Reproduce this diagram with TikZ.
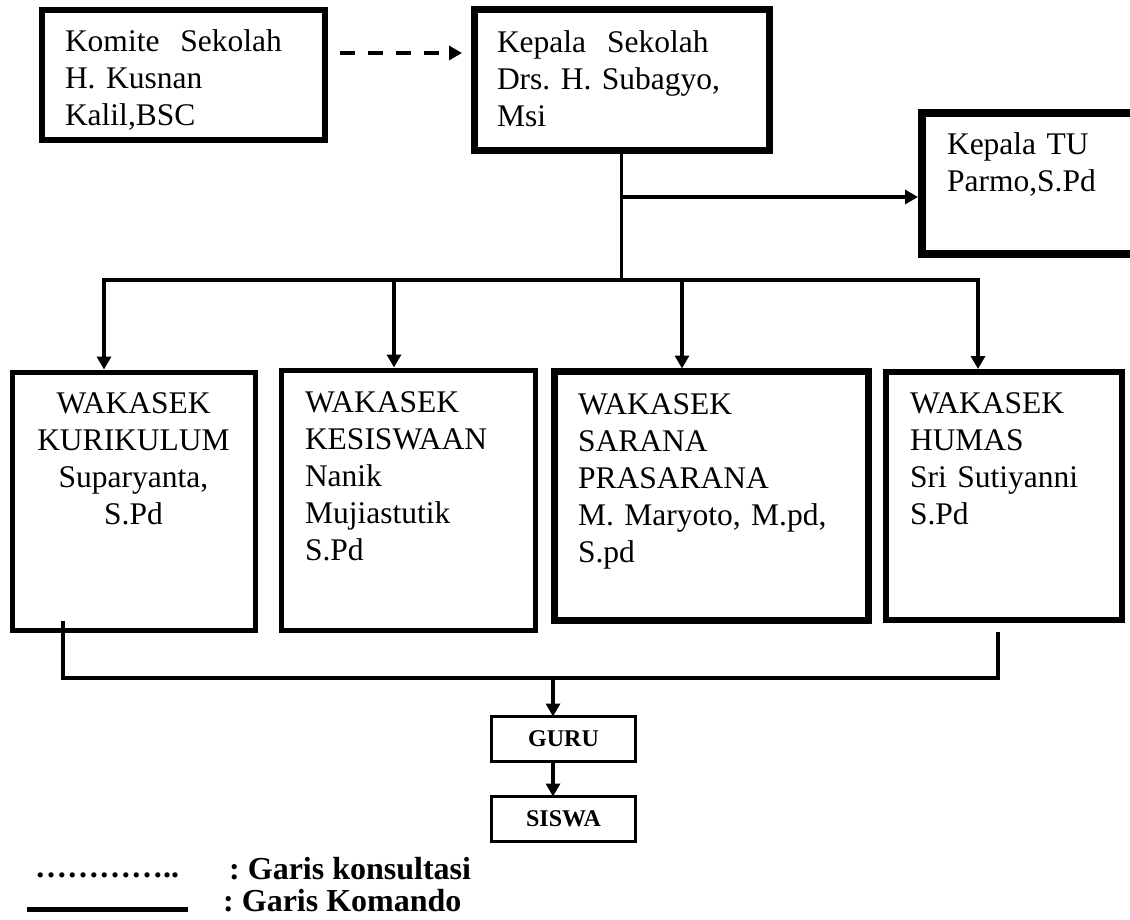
\documentclass[tikz,border=0pt]{standalone}
\usepackage{fontspec}
\setmainfont{Liberation Serif}
\usetikzlibrary{positioning}
\usetikzlibrary{arrows.meta}

\begin{document}
\frenchspacing
\begin{tikzpicture}
        [x=1pt, y=-1pt,
         orgbox/.style={draw, anchor=north west, inner ysep=0pt, outer sep=0pt, align=left,
                        font=\fontsize{31.5}{37}\selectfont},
         smallbox/.style={draw, line width=3pt, outer sep=0pt, inner sep=0pt,
                        minimum width=144pt, minimum height=45pt,
                        font=\fontsize{24}{28}\selectfont\bfseries},
         cmd/.style={line width=3.5pt},
         konsul/.style={line width=4pt, dash pattern=on 15pt off 13pt},
         tip/.style={-{Triangle[length=13pt,width=14pt]}},
         tips/.style={{Triangle[length=13pt,width=14pt]}-{Triangle[length=13pt,width=14pt]}},
         legend/.style={anchor=base west, inner sep=0pt, font=\fontsize{32}{36}\selectfont\bfseries}]
      \useasboundingbox (0,0) rectangle (1130,920);
      % pimpinan
      \node[orgbox, line width=6pt, text width=237pt, inner xsep=23pt, text height=42pt, text depth=88pt]
           (komite) at (42,10) {Komite\ \ Sekolah\\H. Kusnan\\Kalil,BSC};
      \node[orgbox, line width=7pt, text width=249pt, inner xsep=23pt, text height=43pt, text depth=98pt]
           (kasek) at (474,10) {Kepala\ \ Sekolah\\Drs. H. Subagyo,\\Msi};
      \node[orgbox, line width=8pt, text width=168pt, inner xsep=25pt, text height=42pt, text depth=99pt]
           (tu) at (922,113) {Kepala TU\\Parmo,S.Pd};
      % wakasek
      \node[orgbox, line width=5pt, text width=223pt, inner xsep=10pt, text height=41pt, text depth=217pt, align=center]
           (kur) at (12,372) {WAKASEK\\KURIKULUM\\Suparyanta,\\S.Pd};
      \node[orgbox, line width=5pt, text width=207pt, inner xsep=23.5pt, text height=41.5pt, text depth=218.5pt]
           (kes) at (281.5,370.5) {WAKASEK\\KESISWAAN\\Nanik\\Mujiastutik\\S.Pd};
      \node[orgbox, line width=7pt, text width=267pt, inner xsep=23.5pt, text height=42.5pt, text depth=206.5pt]
           (sar) at (554.5,371.5) {WAKASEK\\SARANA\\PRASARANA\\M. Maryoto, M.pd,\\S.pd};
      \node[orgbox, line width=6pt, text width=188pt, inner xsep=24pt, text height=41pt, text depth=207pt]
           (hum) at (886,372) {WAKASEK\\HUMAS\\Sri Sutiyanni\\S.Pd};
      \node[smallbox] (guru) at (563.5,739) {GURU};
      \node[smallbox, below=35pt of guru] (siswa) {SISWA};
      % garis
      \coordinate (ds) at ([xshift=15pt,yshift=22pt]komite.east);
      \draw[konsul, tip, shorten >=12pt] (ds) -- (ds -| kasek.west);
      \coordinate (jct) at (622,280);
      \coordinate (tj) at (622,197);
      \draw[cmd] (kasek.south) -- (kasek.south |- jct);
      \draw[cmd, tip, shorten >=4pt] (tj) -- (tj -| tu.west);
      \coordinate (b1) at (104,280);
      \coordinate (b2) at (394,280);
      \coordinate (b3) at (682,280);
      \coordinate (b4) at (978,280);
      \draw[cmd, tips, shorten <=2.5pt, shorten >=3pt] (b1 |- kur.north) -- (b1) -- (b4) -- (b4 |- hum.north);
      \foreach \b/\w in {b2/kes, b3/sar}
        \draw[cmd, tip, shorten >=3pt] (\b) -- (\b |- \w.north);
      \coordinate (k1) at (63,678);
      \coordinate (k2) at (998,678);
      \coordinate (g0) at (553,678);
      \draw[cmd] (k1 |- kur.south) ++(0,-9) -- (k1) -- (k2) -- ++(0,-46);
      \draw[cmd, tip] (g0) -- (g0 |- guru.north);
      \draw[cmd, tip] (g0 |- guru.south) -- (g0 |- siswa.north);
      % keterangan
      \node[legend] (dots) at (35,877) {…………..};
      \node[legend] (konsultasi) at (229,879) {: Garis konsultasi};
      \coordinate (ls) at (27,909);
      \draw[line width=5pt] (ls) -- ++(161,0);
      \node[legend] (komando) at (223,911) {: Garis Komando};
\end{tikzpicture}
\end{document}
